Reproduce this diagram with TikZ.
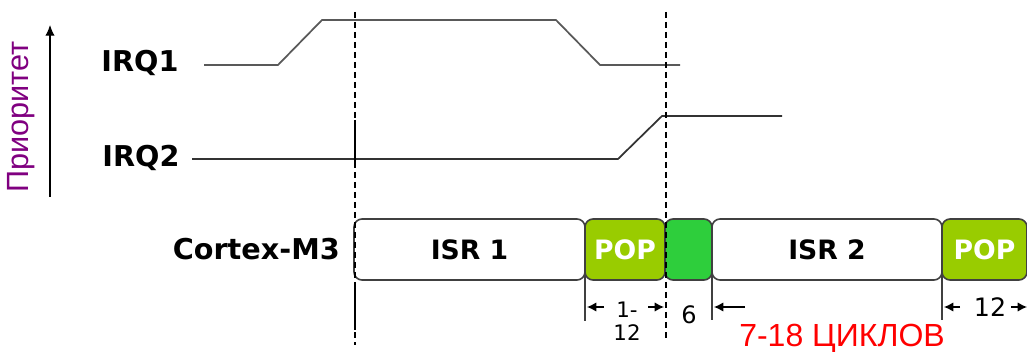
\documentclass[tikz,border=0pt]{standalone}
\usepackage{fontspec}
\setmainfont{DejaVu Sans}
\newfontfamily\arialfont{Liberation Sans}
\usetikzlibrary{arrows,arrows.meta,positioning}
\definecolor{popgreen}{RGB}{153,204,0}
\definecolor{tailgreen}{RGB}{46,206,60}
\definecolor{prio}{RGB}{128,0,128}
\tikzstyle{signame}=[
	font=\fontsize{21.5}{24}\selectfont\bfseries,
	inner sep=0pt
]
\tikzstyle{slot}=[
	rectangle,
	rounded corners=6pt,
	draw=black!75,
	line width=1.2pt,
	minimum height=45.75pt,
	inner sep=0pt,
	outer sep=0pt,
	node distance=0pt,
	font=\fontsize{20}{22}\selectfont\bfseries
]
\tikzstyle{isr}=[slot, fill=white]
\tikzstyle{pop}=[slot, fill=popgreen, text=white]
\tikzstyle{tail}=[slot, fill=tailgreen]
\tikzstyle{wave}=[
	line width=1.3pt,
	draw=black!65
]
\tikzstyle{marker}=[
	line width=1.2pt,
	dash pattern=on 4.5pt off 3pt
]
\tikzstyle{tick}=[
	line width=1pt,
	draw=black!75
]
\tikzstyle{dim}=[
	-{Latex[length=7pt,width=7pt]},
	line width=0.9pt
]
\tikzstyle{cycles}=[
	font=\fontsize{18}{20}\selectfont,
	inner sep=0pt
]

\begin{document}
\begin{tikzpicture}[x=0.75pt, y=-0.75pt]
\useasboundingbox (0,0) rectangle (1027,352);
\clip (0,0) rectangle (1027,352);
% priority axis
\node [rotate=90, text=prio, inner sep=0pt, font=\arialfont\fontsize{23}{25}\selectfont] (prio) at (21,117) {Приоритет};
\coordinate (axisbot) at (50,197);
\coordinate (axistop) at (50,25);
\draw [-{Latex[length=8pt,width=7pt]}, line width=0.9pt] (axisbot) -- (axistop);
% signals
\node [signame] (irq1) at (140,63) {IRQ1};
\node [signame] (irq2) at (141,158) {IRQ2};
\draw [wave] (204,65) -- (278,65) -- (322,20) -- (556,20) -- (600,65) -- (680,65);
\draw [wave, draw=black!80] (192,159) -- (618,159) -- (662,116) -- (782,116);
% processor time line
\node [isr, minimum width=173.25pt, anchor=west] (isr1) at (354,249.5) {ISR 1};
\node [pop, minimum width=60pt, right=of isr1] (pop1) {POP};
\node [tail, minimum width=35.25pt, right=of pop1] (tail) {};
\node [isr, minimum width=172.5pt, right=of tail] (isr2) {ISR 2};
\node [pop, minimum width=63.75pt, right=of isr2] (pop2) {POP};
\node [signame, left=10.5pt of isr1] (cortex) {Cortex-M3};
% markers
\draw [marker] (355,12) -- (355,345);
\draw [marker] (666,12) -- (666,342);
\draw [line width=1.2pt] (355,120) -- (355,165);
\draw [line width=2pt] (355,283) -- (355,330);
\draw [tick] ([yshift=3]pop1.south west) -- ++(0,45);
\draw [tick] ([yshift=3]isr2.south west) -- ++(0,44);
\draw [tick] ([yshift=3]pop2.south west) -- ++(0,44);
% cycle counts
\node [cycles, font=\fontsize{16}{18}\selectfont] (pop1a) at (627,310) {1-};
\node [cycles, font=\fontsize{16}{18}\selectfont] (pop1b) at (627,333) {12};
\draw [dim] (604,307) -- (587,307);
\draw [dim] (648,307) -- (664,307);
\node [cycles] (tailn) at (689,315) {6};
\draw [dim] (745,307) -- (714,307);
\node [cycles, font=\fontsize{19}{21}\selectfont] (pop2n) at (990,307) {12};
\draw [dim] (960,307) -- (944,307);
\draw [dim] (1011,307) -- (1027,307);
\node [text=red, inner sep=0pt, font=\arialfont\fontsize{24}{26}\selectfont] (total) at (842,339) {7-18 ЦИКЛОВ};
\end{tikzpicture}
\end{document}
